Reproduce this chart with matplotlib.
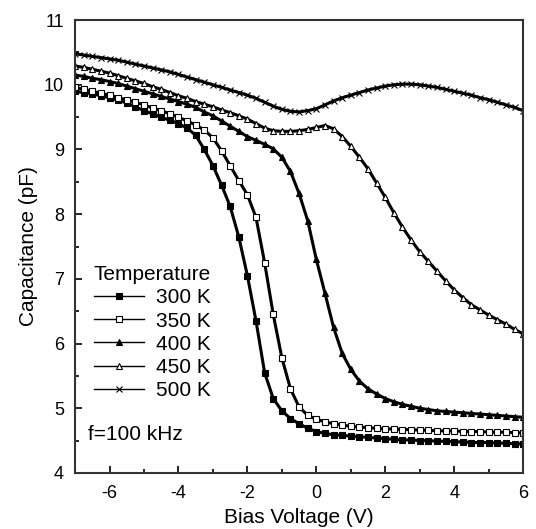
"""
C-V curves at several temperatures (f = 100 kHz).
Values read off the reference picture on a 0.25 V grid.
"""
import numpy as np
import matplotlib
matplotlib.use("Agg")
import matplotlib.pyplot as plt
from matplotlib.ticker import MultipleLocator

plt.rcParams['font.family'] = ['Liberation Sans', 'DejaVu Sans']
plt.rcParams['axes.unicode_minus'] = False

# bias voltage grid (V)
bias = np.arange(-7.0, 6.01, 0.25)

# capacitance (pF) for each temperature
cap_300 = [9.90, 9.88, 9.86, 9.83, 9.80, 9.76, 9.72, 9.66, 9.60, 9.55, 9.50, 9.45, 9.40,
           9.33, 9.22, 9.00, 8.75, 8.45, 8.12, 7.65, 7.05, 6.35, 5.55, 5.15, 4.96, 4.84,
           4.76, 4.69, 4.64, 4.61, 4.59, 4.58, 4.57, 4.56, 4.55, 4.54, 4.53, 4.52, 4.51,
           4.51, 4.50, 4.50, 4.49, 4.49, 4.48, 4.48, 4.47, 4.47, 4.47, 4.46, 4.46, 4.45, 4.45]
cap_350 = [9.96, 9.93, 9.90, 9.87, 9.84, 9.80, 9.77, 9.73, 9.69, 9.64, 9.60, 9.55, 9.50,
           9.44, 9.38, 9.30, 9.18, 8.98, 8.75, 8.52, 8.30, 7.95, 7.25, 6.45, 5.78, 5.30,
           5.02, 4.89, 4.83, 4.79, 4.76, 4.74, 4.72, 4.71, 4.70, 4.69, 4.68, 4.68, 4.67,
           4.67, 4.66, 4.66, 4.65, 4.65, 4.65, 4.64, 4.64, 4.64, 4.63, 4.63, 4.63, 4.62, 4.62]
cap_400 = [10.15, 10.13, 10.10, 10.08, 10.05, 10.02, 9.98, 9.94, 9.90, 9.86, 9.82, 9.78, 9.74,
           9.70, 9.65, 9.58, 9.52, 9.44, 9.36, 9.28, 9.20, 9.14, 9.08, 9.01, 8.88, 8.66,
           8.32, 7.90, 7.30, 6.78, 6.25, 5.85, 5.60, 5.42, 5.30, 5.22, 5.15, 5.10, 5.06,
           5.03, 5.00, 4.98, 4.96, 4.95, 4.94, 4.93, 4.92, 4.91, 4.90, 4.89, 4.88, 4.87, 4.86]
cap_450 = [10.29, 10.27, 10.24, 10.21, 10.18, 10.14, 10.10, 10.06, 10.02, 9.97, 9.93, 9.88, 9.83,
           9.79, 9.74, 9.70, 9.66, 9.61, 9.57, 9.52, 9.47, 9.40, 9.33, 9.29, 9.28, 9.28,
           9.29, 9.31, 9.34, 9.37, 9.32, 9.20, 9.05, 8.88, 8.70, 8.48, 8.26, 8.02, 7.80,
           7.60, 7.42, 7.27, 7.12, 6.97, 6.83, 6.71, 6.60, 6.52, 6.44, 6.37, 6.30, 6.22, 6.15]
cap_500 = [10.48, 10.46, 10.44, 10.42, 10.40, 10.38, 10.35, 10.32, 10.29, 10.26, 10.23, 10.20, 10.16,
           10.12, 10.08, 10.04, 10.00, 9.96, 9.92, 9.88, 9.84, 9.79, 9.73, 9.67, 9.62, 9.59,
           9.58, 9.60, 9.63, 9.69, 9.75, 9.80, 9.84, 9.88, 9.92, 9.95, 9.98, 10.00, 10.01,
           10.01, 10.00, 9.98, 9.96, 9.93, 9.90, 9.87, 9.84, 9.80, 9.77, 9.73, 9.69, 9.65, 9.60]

labels = ["300 K", "350 K", "400 K", "450 K", "500 K"]
series = [cap_300, cap_350, cap_400, cap_450, cap_500]
markers = ["s", "s", "^", "^", "x"]
filled = [True, False, True, False, True]

fig = plt.figure(figsize=(5.36, 5.29), dpi=100)
ax = fig.add_axes([0.140, 0.106, 0.836, 0.856])

for cap, lab, m, f in zip(series, labels, markers, filled):
    face = "black" if f else "white"
    ax.plot(bias, cap, color="black", lw=2.2, marker=m, ms=4.5,
            mfc=face, mec="black", mew=0.8, label=lab)

# axes formatting
ax.set_xlim(-7, 6)
ax.set_ylim(4, 11)
ax.xaxis.set_major_locator(MultipleLocator(2))
ax.xaxis.set_minor_locator(MultipleLocator(1))
ax.yaxis.set_major_locator(MultipleLocator(1))
ax.yaxis.set_minor_locator(MultipleLocator(0.5))
ax.tick_params(which="both", direction="in", top=False, right=False, labelsize=13, width=1.2)
ax.tick_params(which="major", length=5)
ax.tick_params(which="minor", length=3)
ax.tick_params(axis="x", which="major", pad=9)
ax.tick_params(axis="y", which="major", pad=8)
for s in ax.spines.values():
    s.set_linewidth(1.5)
    s.set_color("#333333")

ax.set_xlabel("Bias Voltage (V)", fontsize=15, labelpad=4)
ax.set_ylabel("Capacitance (pF)", fontsize=15, labelpad=4)

leg = ax.legend(title="Temperature", loc="upper left", bbox_to_anchor=(0.0, 0.5),
                frameon=False, fontsize=15, title_fontsize=15, handlelength=2.4,
                handletextpad=0.6, labelspacing=0.2, alignment="left", borderaxespad=0.5)
# thinner lines in the legend handles, like the original
for h in leg.get_lines():
    h.set_linewidth(1.0)

ax.text(0.03, 0.084, "f=100 kHz", transform=ax.transAxes, fontsize=15, va="center")

fig.savefig("out.png", dpi=100)
